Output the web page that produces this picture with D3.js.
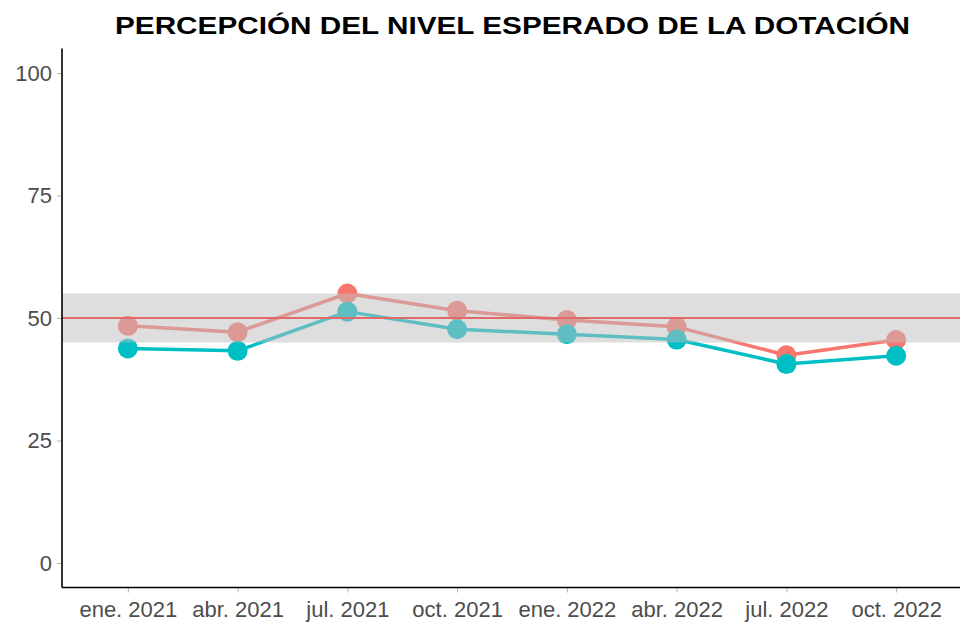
<!DOCTYPE html>
<html>
<head>
<meta charset="utf-8">
<script src="https://cdn.jsdelivr.net/npm/d3@7"></script>
<style>
  body { margin: 0; background: #fff; }
  svg { display: block; font-family: "Liberation Sans", Arial, sans-serif; }
</style>
</head>
<body>
<svg id="chart" width="960" height="623"></svg>
<script>
const categories = ["ene. 2021", "abr. 2021", "jul. 2021", "oct. 2021", "ene. 2022", "abr. 2022", "jul. 2022", "oct. 2022"];
const seriesRed = [48.4, 47.1, 55.0, 51.5, 49.6, 48.2, 42.4, 45.5];
const seriesTeal = [43.8, 43.3, 51.3, 47.7, 46.7, 45.6, 40.6, 42.3];
const yTicks = [0, 25, 50, 75, 100];
const bandRange = [45, 55];
const refLine = 50;
const titleText = "PERCEPCIÓN DEL NIVEL ESPERADO DE LA DOTACIÓN";

const svg = d3.select("#chart");
const W = 960, H = 623;
const panel = { left: 62, right: 962, top: 48.5, bottom: 587.5 };

const x = d3.scalePoint()
  .domain(categories)
  .range([panel.left, panel.right])
  .padding(0.6);
const y = d3.scaleLinear()
  .domain([-5, 105])
  .range([panel.bottom, panel.top]);

// title
svg.append("text")
  .attr("x", 115)
  .attr("y", 34)
  .attr("text-anchor", "start")
  .attr("font-size", 24)
  .attr("font-weight", "bold")
  .attr("fill", "#000")
  .attr("textLength", 795)
  .attr("lengthAdjust", "spacingAndGlyphs")
  .text(titleText);

const g = svg.append("g");

// series
const line = d3.line().x((d, i) => x(categories[i])).y(d => y(d));
const series = [
  { values: seriesRed, color: "#F8766D" },
  { values: seriesTeal, color: "#00BFC4" }
];
series.forEach(s => {
  g.append("path")
    .datum(s.values)
    .attr("d", line)
    .attr("fill", "none")
    .attr("stroke", s.color)
    .attr("stroke-width", 3.5)
    .attr("stroke-linejoin", "round");
  g.selectAll(null)
    .data(s.values)
    .enter().append("circle")
    .attr("cx", (d, i) => x(categories[i]))
    .attr("cy", d => y(d))
    .attr("r", 10)
    .attr("fill", s.color);
});

// band overlay
g.append("rect")
  .attr("x", panel.left)
  .attr("width", W - panel.left)
  .attr("y", y(bandRange[1]))
  .attr("height", y(bandRange[0]) - y(bandRange[1]))
  .attr("fill", "#BEBEBE")
  .attr("fill-opacity", 0.5);

// reference line
g.append("line")
  .attr("x1", panel.left).attr("x2", W)
  .attr("y1", y(refLine)).attr("y2", y(refLine))
  .attr("stroke", "#E06A6A")
  .attr("stroke-width", 1.8);

// y axis
const yAxis = d3.axisLeft(y).tickValues(yTicks).tickSize(5).tickPadding(5);
const ya = svg.append("g").attr("transform", `translate(${panel.left},0)`).call(yAxis);
ya.select(".domain").remove();
ya.selectAll(".tick line").attr("stroke", "#B3B3B3").attr("stroke-width", 1);
ya.selectAll(".tick text").attr("fill", "#4D4D4D").attr("font-size", 22)
  .attr("font-family", "Liberation Sans, Arial, sans-serif");

// x axis
const xAxis = d3.axisBottom(x).tickSize(5).tickPadding(8.5);
const xa = svg.append("g").attr("transform", `translate(0,${panel.bottom})`).call(xAxis);
xa.select(".domain").remove();
xa.selectAll(".tick line").attr("stroke", "#B3B3B3").attr("stroke-width", 1);
xa.selectAll(".tick text").attr("fill", "#4D4D4D").attr("font-size", 22)
  .attr("font-family", "Liberation Sans, Arial, sans-serif");

// axis lines
svg.append("line")
  .attr("x1", panel.left).attr("x2", panel.left)
  .attr("y1", panel.top).attr("y2", panel.bottom)
  .attr("stroke", "#000").attr("stroke-width", 1.6);
svg.append("line")
  .attr("x1", panel.left).attr("x2", W)
  .attr("y1", panel.bottom).attr("y2", panel.bottom)
  .attr("stroke", "#000").attr("stroke-width", 1.6);
</script>
</body>
</html>
